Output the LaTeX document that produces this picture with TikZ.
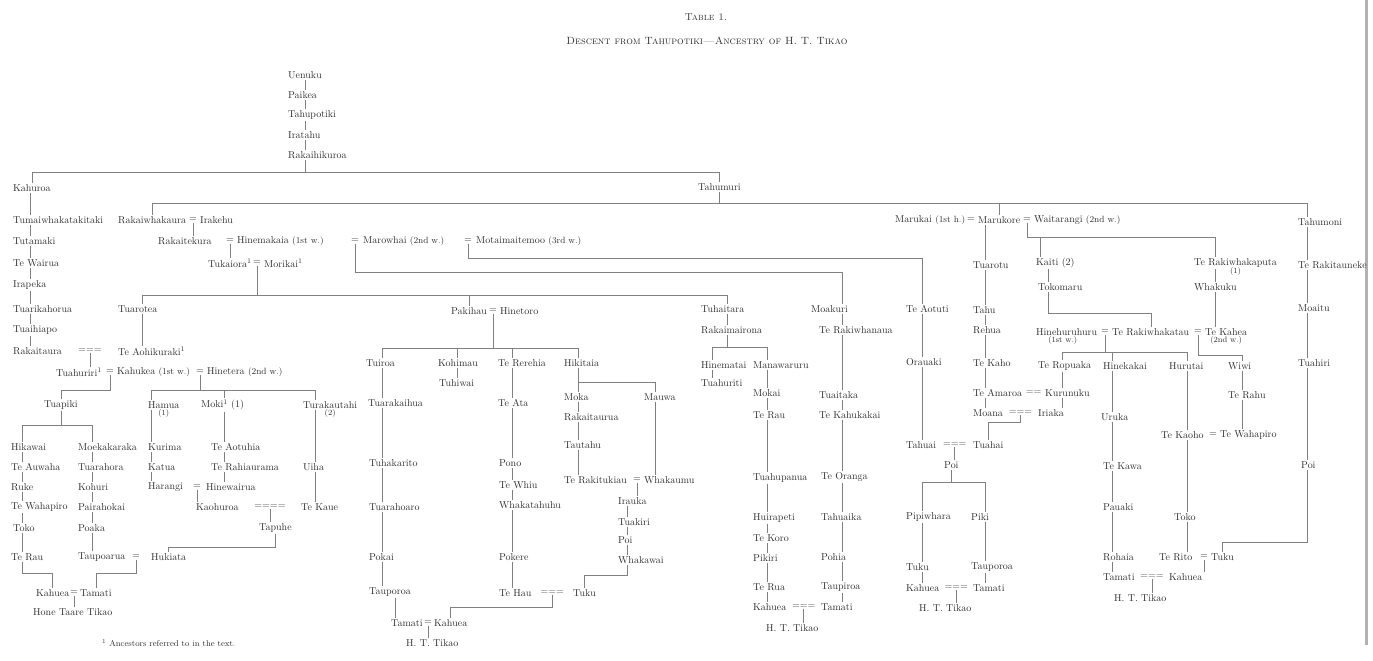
\documentclass[tikz,border=0pt]{standalone}
\usetikzlibrary{positioning}

\begin{document}
\begin{tikzpicture}[x=1pt,y=-1pt,%
	every node/.style={text=black!82,font=\fontsize{10}{12}\selectfont},%
	person/.style={anchor=west,inner sep=1pt},%
	eqsign/.style={inner sep=0.5pt},%
	wed/.style={midway,inner sep=0pt,text=black!70},%
	note/.style={inner sep=0pt,font=\fontsize{8}{9}\selectfont},%
	kin/.style={draw=black!50,line width=.5pt}]
\useasboundingbox (0,0) rectangle (1373,661);

% page edge of the scan
\draw[line width=3pt,black!30] (1366,0) -- (1366,645);

% title
\node (tab) at (706,17) {\fontsize{10}{12}\selectfont\textsc{Table 1.}};
\node (ttl) at (707,41) {\fontsize{10.5}{12}\selectfont\textsc{Descent from Tahupotiki---Ancestry of H. T. Tikao}};

% columns and levels of the lines
\foreach \n/\x in {cTop/305,cA/30,cB/142,cA2/22,cA3/92,cHa/151,cMo/224,cTu/315,cC/382,cC2/395,%
	cK/457,cR/512,cHk/578,cMw/655,cIr/627,cTh/727,cHm/712,cMn/767,cMk/842,cAo/922,cPk/985,%
	cT/985,cKa/1040,cKt/1048,cRp/1062,cHk2/1112,cHr/1187,cWi/1242,cRw/1215,cRt/1307}
	\coordinate (\n) at (\x,0);
\foreach \n/\y in {lv1/172,lv2/203,lv3/295,lv4/258,lv5/272,lv6/390,lv7/425,lv8/573,lv9/547,%
	lv10/348,lv11/382,lv12/575,lv13/607,lv14/347,lv15/482,lv16/237,lv17/313,lv18/352,lv19/355,lv20/542}
	\coordinate (\n) at (0,\y);

% single names
\foreach \a/\b/\c/\d in {uenuku/287/75/Uenuku,paikea/287/95/Paikea,tahupotiki/287/115/Tahupotiki,%
	iratahu/287/135/Iratahu,rakaihikuroa/287/155/Rakaihikuroa,kahuroa/12/188/Kahuroa,tahumuri/697/187/Tahumuri,%
	tumai/12/220/Tumaiwhakatakitaki,tutamaki/12/241/Tutamaki,tewairua/12/263/Te Wairua,irapeka/12/285/Irapeka,%
	tuarika/12/309/Tuarikahorua,tuaihiapo/12/330/Tuaihiapo,rakaitaura/12/351/Rakaitaura,%
	tuarotea/117/309/Tuarotea,tao/117/351/{Te Aohikuraki\textsuperscript{1}},%
	tuapiki/43/405/Tuapiki,hamua/147/405/Hamua,moki/200/405/{Moki\textsuperscript{1} (1)},turakautahi/302/405/Turakautahi,%
	hikawai/10/447/Hikawai,teauwaha/10/467/Te Auwaha,ruke/10/487/Ruke,tewahapiro/10/507/Te Wahapiro,%
	toko/12/528/Toko,terau/10/557/Te Rau,moekakaraka/77/447/Moekakaraka,tuarahora/77/467/Tuarahora,%
	kohuri/77/487/Kohuri,pairahokai/77/507/Pairahokai,poaka/77/528/Poaka,kurima/147/447/Kurima,%
	katua/147/467/Katua,teaotuhia/210/447/Te Aotuhia,terahi/210/467/Te Rahiaurama,uiha/302/467/Uiha,%
	kaohuroa/195/507/Kaohuroa,tekaue/300/507/Te Kaue,tapuhe/258/528/Tapuhe,hone/32/612/Hone Taare Tikao}
	\node[person] (\a) at (\b,\c) {\d};
\foreach \a/\b/\c/\d in {tuiroa/365/363/Tuiroa,kohimau/437/363/Kohimau,terere/497/363/Te Rerehia,%
	hikitaia/563/363/Hikitaia,tuhiwai/438/383/Tuhiwai,tuarakaihua/367/403/Tuarakaihua,teata/497/403/Te Ata,%
	moka/563/397/Moka,mauwa/643/397/Mauwa,rakaitaurua/563/417/Rakaitaurua,tautahu/563/445/Tautahu,%
	tuhakarito/368/463/Tuhakarito,pono/498/463/Pono,tewhiu/498/485/Te Whiu,whakatahuhu/498/505/Whakatahuhu,%
	irauka/617/501/Irauka,tuakiri/617/522/Tuakiri,poi1/617/540/Poi,whakawai/617/560/Whakawai,%
	tuarahoaro/368/507/Tuarahoaro,pokai/368/557/Pokai,pokere/498/557/Pokere,taupoaro/368/592/Tauporoa,%
	ht2/405/643/H. T. Tikao}
	\node[person] (\a) at (\b,\c) {\d};
\foreach \a/\b/\c/\d in {tuhaitara/700/309/Tuhaitara,rakaimairona/700/330/Rakaimairona,%
	hinematai/700/365/Hinematai,tuahuriti/700/383/Tuahuriti,manawaruru/752/365/Manawaruru,mokai/752/393/Mokai,%
	terau2/752/415/Te Rau,tuahupanua/752/478/Tuahupanua,huirapeti/752/518/Huirapeti,tekoro/752/538/Te Koro,%
	pikiri/752/558/Pikiri,terua2/752/587/Te Rua,ht3/765/628/H. T. Tikao,moakuri/810/309/Moakuri,%
	terakiwhanaua/818/330/Te Rakiwhanaua,tuaitaka/818/395/Tuaitaka,tekahukakai/818/415/Te Kahukakai,%
	teoranga/820/477/Te Oranga,tahuaika/820/517/Tahuaika,pohia/820/557/Pohia,taupiroa/820/587/Taupiroa,%
	teaotuti/905/309/Te Aotuti,orauaki/905/362/Orauaki,poi2/943/465/Poi,pipiwhara/905/517/Pipiwhara,%
	piki/970/517/Piki,tuku3/905/567/Tuku,tauporoa4/970/567/Tauporoa,ht4/918/608/H. T. Tikao}
	\node[person] (\a) at (\b,\c) {\d};
\foreach \a/\b/\c/\d in {tuarotu/972/265/Tuarotu,tahu/972/310/Tahu,rehua/972/330/Rehua,tekaho/972/363/Te Kaho,%
	kaiti/1035/263/Kaiti (2),tokomaru/1037/287/Tokomaru,terakiwhakaputa/1193/263/Te Rakiwhakaputa,%
	whakuku/1193/287/Whakuku,teropuaka/1037/366/Te Ropuaka,hinekakai/1102/366/Hinekakai,hurutai/1168/366/Hurutai,%
	wiwi/1227/366/Wiwi,terahu/1227/395/Te Rahu,uruka/1100/417/Uruka,tekawa/1102/466/Te Kawa,%
	pauaki/1102/507/Pauaki,toko2/1173/517/Toko,rohaia/1102/557/Rohaia,ht5/1113/598/H. T. Tikao,%
	tahumoni/1297/222/Tahumoni,terakitauneke/1297/265/Te Rakitauneke,moaitu/1297/308/Moaitu,%
	tuahiri/1297/363/Tuahiri,poi3/1300/465/Poi}
	\node[person] (\a) at (\b,\c) {\d};

% couples
\node[person] (rakaiwhakaura) at (117,220) {Rakaiwhakaura};
\node[eqsign] (eqRI) at (193,220) {=};
\node[person] (irakehu) at (199,220) {Irakehu};

\node[person] (rakaitekura) at (157,241) {Rakaitekura};
\node[eqsign] (eqA1) at (230,241) {=};
\node[person] (hinemakaia) at (236,241) {Hinemakaia {\small (1st w.)}};
\node[eqsign] (eqA2) at (355,241) {=};
\node[person] (marowhai) at (362,241) {Marowhai {\small (2nd w.)}};
\node[eqsign] (eqA3) at (468,241) {=};
\node[person] (motai) at (475,241) {Motaimaitemoo {\small (3rd w.)}};

\node[person] (tukaiora) at (207,263) {Tukaiora\textsuperscript{1}};
\node[eqsign] (eqT) at (257,263) {=};
\node[person] (morikai) at (263,263) {Morikai\textsuperscript{1}};

\node[person] (pakihau) at (450,311) {Pakihau};
\node[eqsign] (eqP) at (493,311) {=};
\node[person] (hinetoro) at (499,311) {Hinetoro};

\node[person] (tuahuriri) at (55,372) {Tuahuriri\textsuperscript{1}};
\node[eqsign] (eqH1) at (110,372) {=};
\node[person] (kahukea) at (116,372) {Kahukea {\small (1st w.)}};
\node[eqsign] (eqH2) at (200,372) {=};
\node[person] (hinetera) at (206,372) {Hinetera {\small (2nd w.)}};

\node[person] (harangi) at (147,487) {Harangi};
\node[eqsign] (eqHw) at (197,487) {=};
\node[person] (hinewairua) at (205,487) {Hinewairua};

\node[person] (taupoarua) at (77,557) {Taupoarua};
\node[eqsign] (eqTp) at (136,557) {=};
\node[person] (hukiata) at (150,557) {Hukiata};

\node[person] (kahuea1) at (35,593) {Kahuea};
\node[eqsign] (eqK1) at (74,593) {=};
\node[person] (tamati1) at (79,593) {Tamati};

\node[person] (tamati2) at (390,623) {Tamati};
\node[eqsign] (eqK2) at (428,623) {=};
\node[person] (kahuea2) at (433,623) {Kahuea};

\node[person] (terakitukiau) at (563,480) {Te Rakitukiau};
\node[eqsign] (eqTk) at (637,480) {=};
\node[person] (whakaumu) at (643,480) {Whakaumu};

\node[person] (tehau) at (498,593) {Te Hau};
\node[person] (tuku2) at (572,593) {Tuku};
\node[person] (kahuea3) at (752,607) {Kahuea};
\node[person] (tamati3) at (820,607) {Tamati};
\node[person] (tahuai) at (905,445) {Tahuai};
\node[person] (tuahai) at (972,445) {Tuahai};
\node[person] (kahuea4) at (905,588) {Kahuea};
\node[person] (tamati4) at (972,588) {Tamati};

\node[person] (marukai) at (894,220) {Marukai {\small (1st h.)}};
\node[eqsign] (eqM1) at (971,220) {=};
\node[person] (marukore) at (977,220) {Marukore};
\node[eqsign] (eqM2) at (1027,220) {=};
\node[person] (waitarangi) at (1033,220) {Waitarangi {\small (2nd w.)}};

\node[person] (teamaroa) at (972,393) {Te Amaroa};
\node[person] (kurunuku) at (1044,393) {Kurunuku};
\node[person] (moana) at (972,413) {Moana};
\node[person] (iriaka) at (1037,413) {Iriaka};

\node[person] (hinehuruhuru) at (1035,332) {Hinehuruhuru};
\node[eqsign] (eqR1) at (1105,332) {=};
\node[person] (terakiwhakatau) at (1111,332) {Te Rakiwhakatau};
\node[eqsign] (eqR2) at (1198,332) {=};
\node[person] (tekahea) at (1204,332) {Te Kahea};

\node[person] (tekaoho) at (1160,435) {Te Kaoho};
\node[eqsign] (eqKo) at (1213,435) {=};
\node[person] (tewahapiro2) at (1219,435) {Te Wahapiro};

\node[person] (terito) at (1158,557) {Te Rito};
\node[eqsign] (eqRi) at (1204,557) {=};
\node[person] (tuku5) at (1210,557) {Tuku};
\node[person] (tamati5) at (1102,577) {Tamati};
\node[person] (kahuea5) at (1168,577) {Kahuea};

% small notes
\node[note,below=0pt of hamua] {(1)};
\node[note,below=0pt of turakautahi] {(2)};
\node[note,below=-1pt of terakiwhakaputa] {(1)};
\node[note,below=0pt of hinehuruhuru,xshift=-4pt] {(1st w.)};
\node[note,below=0pt of tekahea] {(2nd w.)};
\node[note,anchor=west,font=\fontsize{8.5}{10}\selectfont] (fn) at (102,643) {\textsuperscript{1} Ancestors referred to in the text.};

% marriages
\path (rakaitaura.east) -- (tao.west) node[wed] (m1) {===};
\path (kaohuroa.east) -- (tekaue.west) node[wed] (m2) {====};
\path (tehau.east) -- (tuku2.west) node[wed] (m3) {===};
\path (kahuea3.east) -- (tamati3.west) node[wed] (m4) {===};
\path (tahuai.east) -- (tuahai.west) node[wed] (m5) {===};
\path (kahuea4.east) -- (tamati4.west) node[wed] (m6) {===};
\path (teamaroa.east) -- (kurunuku.west) node[wed] (m7) {==};
\path (moana.east) -- (iriaka.west) node[wed] (m8) {===};
\path (tamati5.east) -- (kahuea5.west) node[wed] (m9) {===};

% straight descents
\foreach \c/\from/\to in {cTop/uenuku/paikea,cTop/paikea/tahupotiki,cTop/tahupotiki/iratahu,cTop/iratahu/rakaihikuroa,%
	cA/kahuroa/tumai,cA/tumai/tutamaki,cA/tutamaki/tewairua,cA/tewairua/irapeka,cA/irapeka/tuarika,%
	cA/tuarika/tuaihiapo,cA/tuaihiapo/rakaitaura,cB/tuarotea/tao,%
	cA2/hikawai/teauwaha,cA2/teauwaha/ruke,cA2/ruke/tewahapiro,cA2/tewahapiro/toko,cA2/toko/terau,%
	cA3/moekakaraka/tuarahora,cA3/tuarahora/kohuri,cA3/kohuri/pairahokai,cA3/pairahokai/poaka,cA3/poaka/taupoarua,%
	cHa/hamua/kurima,cHa/kurima/katua,cHa/katua/harangi,cMo/moki/teaotuhia,cMo/teaotuhia/terahi,cMo/terahi/hinewairua,%
	cTu/turakautahi/uiha,cTu/uiha/tekaue,%
	cC/tuiroa/tuarakaihua,cC/tuarakaihua/tuhakarito,cC/tuhakarito/tuarahoaro,cC/tuarahoaro/pokai,cC/pokai/taupoaro,%
	cC2/taupoaro/tamati2,cK/kohimau/tuhiwai,%
	cR/terere/teata,cR/teata/pono,cR/pono/tewhiu,cR/tewhiu/whakatahuhu,cR/whakatahuhu/pokere,cR/pokere/tehau,%
	cHk/hikitaia/moka,cHk/moka/rakaitaurua,cHk/rakaitaurua/tautahu,cHk/tautahu/terakitukiau,cMw/mauwa/whakaumu,%
	cIr/irauka/tuakiri,cIr/tuakiri/poi1,cIr/poi1/whakawai,cTh/tuhaitara/rakaimairona,cHm/hinematai/tuahuriti,%
	cMn/manawaruru/mokai,cMn/mokai/terau2,cMn/terau2/tuahupanua,cMn/tuahupanua/huirapeti,cMn/huirapeti/tekoro,%
	cMn/tekoro/pikiri,cMn/pikiri/terua2,cMn/terua2/kahuea3,%
	cMk/moakuri/terakiwhanaua,cMk/terakiwhanaua/tuaitaka,cMk/tuaitaka/tekahukakai,cMk/tekahukakai/teoranga,%
	cMk/teoranga/tahuaika,cMk/tahuaika/pohia,cMk/pohia/taupiroa,cMk/taupiroa/tamati3,%
	cAo/teaotuti/orauaki,cAo/orauaki/tahuai,cAo/pipiwhara/tuku3,cAo/tuku3/kahuea4,cPk/piki/tauporoa4,cPk/tauporoa4/tamati4,%
	cT/marukore/tuarotu,cT/tuarotu/tahu,cT/tahu/rehua,cT/rehua/tekaho,cT/tekaho/teamaroa,cT/teamaroa/moana,%
	cKt/kaiti/tokomaru,cRw/terakiwhakaputa/whakuku,cRw/whakuku/tekahea,cRp/teropuaka/kurunuku,cRp/kurunuku/iriaka,%
	cHk2/hinekakai/uruka,cHk2/uruka/tekawa,cHk2/tekawa/pauaki,cHk2/pauaki/rohaia,cHk2/rohaia/tamati5,%
	cHr/hurutai/tekaoho,cHr/tekaoho/toko2,cHr/toko2/terito,cWi/wiwi/terahu,cWi/terahu/tewahapiro2,%
	cRt/tahumoni/terakitauneke,cRt/terakitauneke/moaitu,cRt/moaitu/tuahiri,cRt/tuahiri/poi3}
	\draw[kin] (\c |- \from.south) -- (\c |- \to.north);

% branching lines
\draw[kin] (cTop |- rakaihikuroa.south) -- (cTop |- lv1);
\draw[kin] (kahuroa.north) -- (kahuroa.north |- lv1) -- (tahumuri.north |- lv1) -- (tahumuri.north);
\draw[kin] (tahumuri.south) -- (tahumuri.south |- lv2);
\draw[kin] (rakaiwhakaura.north) -- (rakaiwhakaura.north |- lv2) -- (cRt |- lv2) -- (cRt |- tahumoni.north);
\draw[kin] (marukore.north |- lv2) -- (marukore.north);
\draw[kin] (eqRI.south) -- (eqRI.south |- rakaitekura.north);
\draw[kin] (eqA1.south) -- (eqA1.south |- tukaiora.north);
\draw[kin] (eqA2.south) |- (cMk |- lv5) -- (cMk |- moakuri.north);
\draw[kin] (eqA3.south) |- (cAo |- lv4) -- (cAo |- teaotuti.north);
\draw[kin] (eqT.south) -- (eqT.south |- lv3);
\draw[kin] (cB |- tuarotea.north) -- (cB |- lv3) -- (cTh |- lv3) -- (cTh |- tuhaitara.north);
\draw[kin] (pakihau.north |- lv3) -- (pakihau.north);
\draw[kin] (m1.south) -- (m1.south |- tuahuriri.north);
\draw[kin] (eqH1.south) |- (tuapiki.north |- lv6) -- (tuapiki.north);
\draw[kin] (eqH2.south) -- (eqH2.south |- lv6);
\draw[kin] (cHa |- hamua.north) -- (cHa |- lv6) -- (cTu |- lv6) -- (cTu |- turakautahi.north);
\draw[kin] (cMo |- lv6) -- (cMo |- moki.north);
\draw[kin] (tuapiki.south) -- (tuapiki.south |- lv7);
\draw[kin] (cA2 |- hikawai.north) -- (cA2 |- lv7) -- (cA3 |- lv7) -- (cA3 |- moekakaraka.north);
\draw[kin] (cA2 |- terau.south) |- (kahuea1.north |- lv8) -- (kahuea1.north);
\draw[kin] (eqTp.south) |- (tamati1.north |- lv8) -- (tamati1.north);
\draw[kin] (eqK1.south) -- (eqK1.south |- hone.north);
\draw[kin] (eqHw.south) -- (eqHw.south |- kaohuroa.north);
\draw[kin] (m2.south) -- (m2.south |- tapuhe.north);
\draw[kin] (tapuhe.south) |- (hukiata.north |- lv9) -- (hukiata.north);
\draw[kin] (eqP.south) -- (eqP.south |- lv10);
\draw[kin] (cC |- tuiroa.north) -- (cC |- lv10) -- (cHk |- lv10) -- (cHk |- hikitaia.north);
\draw[kin] (cK |- lv10) -- (cK |- kohimau.north);
\draw[kin] (cR |- lv10) -- (cR |- terere.north);
\draw[kin] (cHk |- lv11) -- (cMw |- lv11) -- (cMw |- mauwa.north);
\draw[kin] (eqTk.south) -- (eqTk.south |- irauka.north);
\draw[kin] (cIr |- whakawai.south) |- (tuku2.north |- lv12) -- (tuku2.north);
\draw[kin] (m3.south) |- (kahuea2.north |- lv13) -- (kahuea2.north);
\draw[kin] (eqK2.south) -- (eqK2.south |- ht2.north);
\draw[kin] (cTh |- rakaimairona.south) -- (cTh |- lv14);
\draw[kin] (cHm |- hinematai.north) -- (cHm |- lv14) -- (cMn |- lv14) -- (cMn |- manawaruru.north);
\draw[kin] (m4.south) -- (m4.south |- ht3.north);
\draw[kin] (m5.south) -- (m5.south |- poi2.north);
\draw[kin] (poi2.south) -- (poi2.south |- lv15);
\draw[kin] (cAo |- pipiwhara.north) -- (cAo |- lv15) -- (cPk |- lv15) -- (cPk |- piki.north);
\draw[kin] (m6.south) -- (m6.south |- ht4.north);
\draw[kin] (m8.south) -- ++(0,7) -| (tuahai.north);
\draw[kin] (eqM2.south) -- (eqM2.south |- lv16) -- (cRw |- lv16) -- (cRw |- terakiwhakaputa.north);
\draw[kin] (cKa |- lv16) -- (cKa |- kaiti.north);
\draw[kin] (cKt |- tokomaru.south) |- (terakiwhakatau.north |- lv17) -- (terakiwhakatau.north);
\draw[kin] (eqR1.south) -- (eqR1.south |- lv18);
\draw[kin] (cRp |- teropuaka.north) -- (cRp |- lv18) -- (cHr |- lv18) -- (cHr |- hurutai.north);
\draw[kin] (cHk2 |- lv18) -- (cHk2 |- hinekakai.north);
\draw[kin] (eqR2.south) |- (cWi |- lv19) -- (cWi |- wiwi.north);
\draw[kin] (eqRi.south) -- (eqRi.south |- kahuea5.north);
\draw[kin] (cRt |- poi3.south) |- (tuku5.north |- lv20) -- (tuku5.north);
\draw[kin] (m9.south) -- (m9.south |- ht5.north);

\end{tikzpicture}
\end{document}
